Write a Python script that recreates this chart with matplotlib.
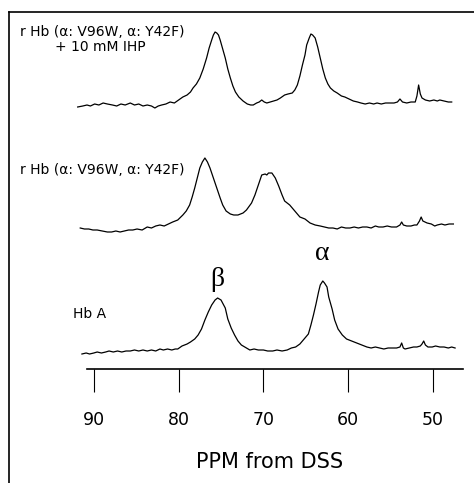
import matplotlib
matplotlib.use("Agg")
import matplotlib.pyplot as plt
from matplotlib.lines import Line2D

# spectra: chemical shift (ppm) and height above baseline (a.u.)
ihp_ppm = [91.9, 91.3, 90.8, 90.4, 89.9, 89.4, 88.9, 88.4, 87.8, 87.3, 86.8, 86.3,
           85.7, 85.2, 84.7, 84.2, 83.7, 83.2, 82.8, 82.4, 82.0, 81.5, 81.0, 80.5,
           80.0, 79.5, 79.0, 78.6, 78.3, 77.9, 77.5, 77.1, 76.7, 76.4, 76.1, 75.9,
           75.7, 75.5, 75.3, 75.1, 74.8, 74.5, 74.2, 73.9, 73.6, 73.3, 72.9, 72.4,
           71.9, 71.5, 71.2, 70.8, 70.5, 70.2, 69.9, 69.6, 69.2, 68.8, 68.4, 68.0,
           67.5, 67.1, 66.6, 66.3, 66.0, 65.7, 65.4, 65.1, 64.9, 64.6, 64.4, 64.2,
           63.9, 63.6, 63.3, 63.0, 62.7, 62.4, 62.1, 61.7, 61.3, 60.8, 60.4, 59.9,
           59.4, 58.9, 58.5, 58.0, 57.5, 57.0, 56.6, 56.1, 55.6, 55.1, 54.6, 54.2,
           53.9, 53.6, 53.1, 52.6, 52.1, 51.9, 51.7, 51.5, 51.3, 50.9, 50.4, 49.9,
           49.5, 49.2, 48.7, 48.2, 47.8]
ihp_int = [-3, -2, -1, -2, 0, -1, 1, 0, -1, -2, 0, -1,
           1, -1, 0, -2, -1, -2, -4, -2, -1, 0, 2, 1,
           4, 7, 9, 12, 16, 20, 26, 35, 46, 56, 64, 69,
           72, 71, 69, 64, 55, 46, 35, 26, 18, 12, 7, 3,
           0, -1, -1, 1, 2, 4, 2, 1, 2, 3, 4, 6,
           9, 10, 11, 14, 19, 28, 39, 49, 59, 66, 70, 69,
           66, 57, 46, 35, 26, 20, 16, 13, 11, 8, 7, 5,
           3, 2, 1, 0, 1, 0, 1, 0, 1, 1, 1, 2,
           5, 2, 1, 2, 2, 8, 19, 10, 6, 4, 3, 4,
           3, 4, 3, 2, 2]

mut_ppm = [91.6, 91.1, 90.6, 90.1, 89.6, 89.0, 88.4, 87.9, 87.4, 86.9, 86.4, 85.9,
           85.4, 84.9, 84.3, 83.7, 83.2, 82.7, 82.2, 81.7, 81.2, 80.7, 80.1, 79.5,
           79.1, 78.7, 78.4, 78.1, 77.8, 77.5, 77.2, 76.9, 76.6, 76.3, 75.9, 75.5,
           75.1, 74.8, 74.4, 73.9, 73.5, 73.0, 72.4, 72.0, 71.4, 71.0, 70.6, 70.2,
           69.8, 69.6, 69.4, 69.0, 68.6, 68.2, 67.8, 67.5, 66.9, 66.3, 65.7, 65.1,
           64.5, 63.9, 63.3, 62.8, 62.3, 61.8, 61.3, 60.8, 60.3, 59.8, 59.3, 58.8,
           58.3, 57.8, 57.3, 56.8, 56.4, 55.9, 55.4, 54.9, 54.3, 53.9, 53.7, 53.5,
           53.1, 52.6, 52.2, 51.9, 51.6, 51.4, 51.2, 50.7, 50.2, 49.8, 49.5, 49.0,
           48.6, 48.1, 47.6]
mut_int = [0, -1, -1, -2, -2, -3, -4, -4, -3, -4, -3, -2,
           -2, -1, -2, 1, 0, 2, 3, 2, 4, 6, 8, 13,
           17, 23, 31, 40, 50, 60, 66, 70, 66, 60, 50, 40,
           30, 23, 17, 14, 13, 13, 15, 18, 25, 33, 43, 53,
           54, 53, 55, 55, 50, 42, 33, 27, 23, 17, 11, 9,
           5, 3, 2, 1, 0, 0, -1, 1, 0, 0, 1, 0,
           1, 1, 0, 2, 1, 1, 2, 1, 1, 3, 6, 3,
           2, 2, 3, 3, 7, 11, 7, 5, 4, 2, 3, 4,
           3, 4, 4]

hba_ppm = [91.4, 90.9, 90.5, 90.0, 89.6, 89.1, 88.6, 88.2, 87.7, 87.2, 86.7, 86.2,
           85.7, 85.2, 84.7, 84.2, 83.7, 83.2, 82.7, 82.2, 81.8, 81.3, 80.8, 80.4,
           80.1, 79.6, 79.0, 78.6, 78.1, 77.7, 77.3, 76.9, 76.5, 76.1, 75.7, 75.4,
           75.0, 74.5, 74.2, 73.8, 73.4, 73.0, 72.6, 72.0, 71.6, 71.1, 70.6, 70.0,
           69.5, 68.9, 68.4, 67.8, 67.2, 66.7, 66.2, 65.7, 65.1, 64.7, 64.4, 64.1,
           63.8, 63.5, 63.3, 63.0, 62.8, 62.5, 62.3, 61.9, 61.6, 61.2, 60.7, 60.2,
           59.6, 59.0, 58.4, 57.8, 57.3, 56.8, 56.3, 55.8, 55.3, 54.8, 54.3, 53.9,
           53.7, 53.5, 53.3, 52.8, 52.3, 51.9, 51.5, 51.3, 51.1, 50.9, 50.6, 50.1,
           49.7, 49.2, 48.7, 48.2, 47.8, 47.4]
hba_int = [-4, -3, -4, -3, -2, -3, -2, -1, -2, -1, -2, -1,
           -1, 0, -1, 0, -1, 0, -1, 1, 0, 1, 0, 1,
           1, 4, 6, 8, 11, 15, 21, 30, 38, 45, 50, 52,
           50, 42, 31, 22, 15, 9, 5, 2, 0, 1, 0, 0,
           -1, -1, 0, -1, 0, 2, 3, 6, 12, 16, 25, 35,
           46, 58, 65, 69, 67, 63, 53, 41, 30, 21, 15, 11,
           9, 7, 5, 3, 2, 3, 2, 1, 2, 2, 2, 3,
           7, 2, 1, 2, 3, 3, 4, 6, 9, 5, 3, 3,
           4, 3, 3, 2, 3, 2]

tick_ppm = [90, 80, 70, 60, 50]
tick_labels = ["90", "80", "70", "60", "50"]

W, H = 474, 483
fig = plt.figure(figsize=(W / 100, H / 100), dpi=100)
ax = fig.add_axes([0, 1 - 369 / H, 1, 369 / H])

# vertical stacking of the three traces (pixels above the ppm axis)
offsets = [265, 141, 19]
for ppm, inten, off in zip([ihp_ppm, mut_ppm, hba_ppm],
                           [ihp_int, mut_int, hba_int], offsets):
    ax.plot(ppm, [v + off for v in inten], color="black", lw=0.9)

ax.set_xlim(101.06, 45.17)
ax.set_ylim(0, 369)
for side in ["top", "left", "right"]:
    ax.spines[side].set_visible(False)
ax.spines["bottom"].set_bounds(90.8, 46.5)
ax.spines["bottom"].set_linewidth(1.2)
ax.set_yticks([])
ax.set_xticks(tick_ppm)
ax.set_xticklabels(tick_labels, fontsize=12.5, family="DejaVu Sans")
ax.tick_params(axis="x", direction="out", length=16.5, width=0.8, pad=14)

# peak labels
ax.text(75.4, 369 - 286, "β", family="Liberation Serif", fontsize=20,
        ha="center", va="baseline")
ax.text(63.1, 369 - 260, "α", family="Liberation Serif", fontsize=20,
        ha="center", va="baseline")

# trace labels
txt = dict(family="DejaVu Sans", fontsize=10, ha="left", va="center")
fig.text(20 / W, 1 - 32 / H, "r Hb (α: V96W, α: Y42F)", **txt)
fig.text(55 / W, 1 - 47 / H, "+ 10 mM IHP", **txt)
fig.text(20 / W, 1 - 170 / H, "r Hb (α: V96W, α: Y42F)", **txt)
fig.text(73 / W, 1 - 314 / H, "Hb A", **txt)

fig.text(270 / W, 1 - 462 / H, "PPM from DSS", family="DejaVu Sans",
         fontsize=15, ha="center", va="center")

# frame lines at top and left
fig.add_artist(Line2D([9 / W, 1], [1 - 12 / H, 1 - 12 / H], color="black", lw=1.2))
fig.add_artist(Line2D([9 / W, 9 / W], [0, 1 - 12 / H], color="black", lw=1.2))

fig.savefig("out.png", dpi=100)
